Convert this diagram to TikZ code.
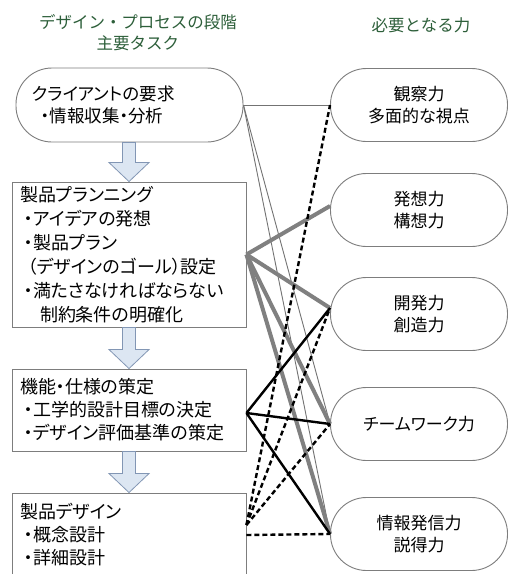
\documentclass[tikz,border=0pt]{standalone}
\usepackage{fontspec}
\setmainfont[RawFeature=+palt]{Noto Sans CJK JP}
\newfontfamily\hdrfont{Noto Sans CJK JP}
\usetikzlibrary{calc}
\definecolor{hdrgreen}{RGB}{45,95,58}
\definecolor{boxedge}{RGB}{125,125,125}
\definecolor{arrfill}{RGB}{220,230,242}
\definecolor{arredge}{RGB}{130,150,180}
\definecolor{thickgray}{RGB}{128,128,128}
\newcommand{\myarrow}[2]{\draw[arrowshape] ($(#1.south -| #2.north)+(-6.5,0)$) -- ($(#2.north)+(-6.5,-19)$) -- ++(-13.5,0) -- (#2.north) -- ++(20,-19) -- ++(-13.5,0) -- ($(#1.south -| #2.north)+(6.5,0)$) -- cycle;}
\begin{document}
\begin{tikzpicture}[x=1pt,y=-1pt,
  rtxt/.style={font=\fontsize{17}{22}\selectfont},
  ltxt/.style={font=\fontsize{18}{23}\selectfont},
  hdr/.style={font=\hdrfont\fontsize{16.5}{21}\selectfont, text=hdrgreen, align=center, inner sep=0pt},
  lbox/.style={ltxt, draw=boxedge, line width=0.9pt, fill=white, align=left, inner xsep=8pt, inner ysep=0pt, text width=218pt, minimum width=234pt},
  pill/.style={draw=boxedge, line width=0.9pt, fill=white, rounded corners=36pt, inner sep=0pt},
  rbox/.style={pill, rtxt, align=center, minimum width=177pt, minimum height=73pt},
  arrowshape/.style={fill=arrfill, draw=arredge, line width=0.8pt, line join=miter},
  thinline/.style={draw=thickgray!90!black, line width=0.9pt},
  grayline/.style={draw=thickgray, line width=4pt},
  blackline/.style={draw=black, line width=2.4pt},
  dashline/.style={draw=black, line width=2.4pt, dash pattern=on 5pt off 3pt}
]
\useasboundingbox (0,0) rectangle (509,574);
\clip (0,0) rectangle (509,574);
\fill[white] (0,0) rectangle (509,574);

% headers
\node[hdr] (h1) at (138,32.5) {デザイン・プロセスの段階\\主要タスク};
\node[hdr] (h2) at (421,25) {必要となる力};

% left boxes
\node[pill, ltxt, font=\fontsize{17.5}{22}\selectfont, align=left, inner xsep=16pt, text width=195pt, minimum width=227pt, minimum height=74pt] (b1) at (129.5,105) {クライアントの要求\\\hspace{9pt}・情報収集・分析};
\node[lbox, font=\fontsize{18}{24}\selectfont, minimum height=145pt] (b2) at (129,254.5) {製品プランニング\\\hspace{4pt}・アイデアの発想\\\hspace{4pt}・製品プラン\\\hspace{8pt}（デザインのゴール）設定\\\hspace{4pt}・満たさなければならない\\\hspace{20pt}制約条件の明確化};
\node[lbox, minimum height=82pt] (b3) at (129,410) {機能・仕様の策定\\\hspace{4pt}・工学的設計目標の決定\\\hspace{4pt}・デザイン評価基準の策定};
\node[lbox, minimum height=84pt] (b4) at (129,535) {製品デザイン\\\hspace{4pt}・概念設計\\\hspace{4pt}・詳細設計};

% block arrows
\myarrow{b1}{b2}
\myarrow{b2}{b3}
\myarrow{b3}{b4}

% right nodes
\node[rbox] (n1) at (419,105) {観察力\\多面的な視点};
\node[rbox] (n2) at (419,210) {発想力\\構想力};
\node[rbox] (n3) at (419,314) {開発力\\創造力};
\node[rbox] (n4) at (419,424) {チームワーク力};
\node[rbox] (n5) at (419,534) {情報発信力\\説得力};

% connectors
\draw[thinline] (b1.east) -- (n1.west);
\draw[thinline] (b1.east) -- (n4.west);
\draw[thinline] (b1.east) -- (n5.west);

\draw[grayline] (b2.east) -- ([yshift=4pt]n2.west);
\draw[grayline] (b2.east) -- ([yshift=6pt]n3.west);
\draw[grayline] (b2.east) -- (n4.west);
\draw[grayline] (b2.east) -- (n5.west);

\draw[blackline] ([yshift=-3pt]b3.east) -- ([yshift=6pt]n3.west);
\draw[blackline] ([yshift=-3pt]b3.east) -- (n4.west);
\draw[blackline] ([yshift=-3pt]b3.east) -- (n5.west);

\draw[dashline] ([yshift=10pt]b4.east) -- (n1.west);
\draw[dashline] ([yshift=10pt]b4.east) -- ([yshift=6pt]n3.west);
\draw[dashline] ([yshift=10pt]b4.east) -- (n4.west);
\draw[dashline] (b4.east) -- (n5.west);
\end{tikzpicture}
\end{document}
